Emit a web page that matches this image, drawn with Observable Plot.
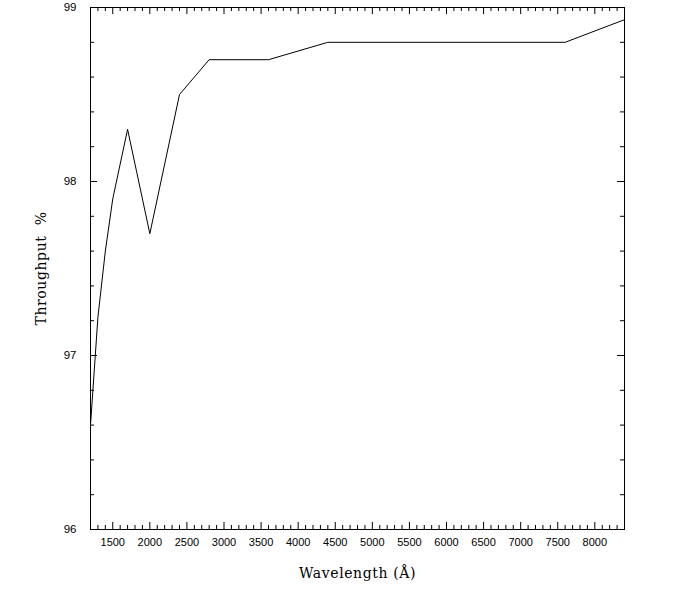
<!DOCTYPE html>
<html>
<head>
<meta charset="utf-8">
<script src="https://cdn.jsdelivr.net/npm/d3@7"></script>
<script src="https://cdn.jsdelivr.net/npm/@observablehq/plot@0.6"></script>
<style>
  html, body { margin: 0; padding: 0; background: #fff; }
  svg g[aria-label="text"] text { letter-spacing: 0.6px; }
</style>
</head>
<body>
<div id="chart"></div>
<script>
// Data
const wavelength = [1200, 1300, 1400, 1500, 1700, 2000, 2400, 2800, 3600, 4400, 7600, 8400];
const throughput = [96.6, 97.22, 97.6, 97.9, 98.3, 97.7, 98.5, 98.7, 98.7, 98.8, 98.8, 98.93];

const xMajorTicks = [1500, 2000, 2500, 3000, 3500, 4000, 4500, 5000, 5500, 6000, 6500, 7000, 7500, 8000];
const xMinorTicks = d3.range(1300, 8400, 100).filter(v => v % 500 !== 0);
const yMajorTicks = [96, 97, 98, 99];
const yMinorTicks = [96.2, 96.4, 96.6, 96.8, 97.2, 97.4, 97.6, 97.8, 98.2, 98.4, 98.6, 98.8];

const xLabel = "Wavelength (Å)";
const yLabel = "Throughput  %";

const data = wavelength.map((w, i) => ({w, t: throughput[i]}));

const W = 692, H = 592;
const mL = 90, mR = 68, mT = 7, mB = 63;
const plotW = W - mL - mR, plotH = H - mT - mB;
const majorLen = 7, minorLen = 4;

const chart = Plot.plot({
  width: W,
  height: H,
  marginLeft: mL,
  marginRight: mR,
  marginTop: mT,
  marginBottom: mB,
  style: {fontFamily: "'Liberation Sans', sans-serif", fontSize: "11px", color: "#000", background: "#fff"},
  x: {domain: [1200, 8400]},
  y: {domain: [96, 99]},
  marks: [
    Plot.frame({stroke: "#000", strokeWidth: 1}),
    // bottom & top ticks (inward)
    Plot.tickX(xMajorTicks, {x: d => d, insetTop: plotH - majorLen, stroke: "#000"}),
    Plot.tickX(xMinorTicks, {x: d => d, insetTop: plotH - minorLen, stroke: "#000"}),
    Plot.tickX(xMajorTicks, {x: d => d, insetBottom: plotH - majorLen, stroke: "#000"}),
    Plot.tickX(xMinorTicks, {x: d => d, insetBottom: plotH - minorLen, stroke: "#000"}),
    // left & right ticks (inward)
    Plot.tickY(yMajorTicks, {y: d => d, insetRight: plotW - majorLen, stroke: "#000"}),
    Plot.tickY(yMinorTicks, {y: d => d, insetRight: plotW - minorLen, stroke: "#000"}),
    Plot.tickY(yMajorTicks, {y: d => d, insetLeft: plotW - majorLen, stroke: "#000"}),
    Plot.tickY(yMinorTicks, {y: d => d, insetLeft: plotW - minorLen, stroke: "#000"}),
    // tick labels
    Plot.axisX(xMajorTicks, {tickSize: 0, tickPadding: 9, label: null, fontSize: 11, tickFormat: "d"}),
    Plot.axisY(yMajorTicks, {tickSize: 0, tickPadding: 14, label: null, fontSize: 11.5, tickFormat: "d"}),
    // the data line
    Plot.line(data, {x: "w", y: "t", stroke: "#000", strokeWidth: 1}),
    // axis titles
    Plot.text([xLabel], {text: d => d, frameAnchor: "bottom", dy: 44, lineAnchor: "middle", textAnchor: "middle", fontFamily: "'DejaVu Serif', serif", fontSize: 14, fill: "#000"}),
    Plot.text([yLabel], {text: d => d, frameAnchor: "left", dx: -49, rotate: -90, lineAnchor: "middle", textAnchor: "middle", fontFamily: "'DejaVu Serif', serif", fontSize: 14, fill: "#000"})
  ]
});

document.getElementById("chart").appendChild(chart);
</script>
</body>
</html>
